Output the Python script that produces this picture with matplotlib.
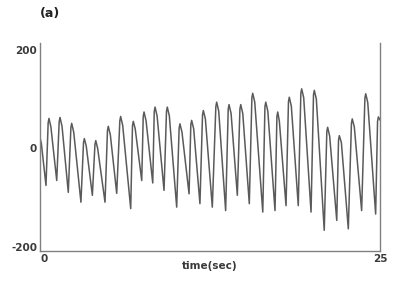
import matplotlib
matplotlib.use("Agg")
import matplotlib.pyplot as plt

# Vertices of the trace (time in sec, amplitude):
# troughs, peaks, and the small shoulders around each peak
time_sec = [0.00, 0.10, 0.44, 0.60, 0.66, 0.80, 1.23, 1.41, 1.47, 1.62,
            2.08, 2.27, 2.33, 2.48, 3.01, 3.20, 3.26, 3.40, 3.85, 4.04,
            4.10, 4.24, 4.78, 4.96, 5.02, 5.17, 5.64, 5.87, 5.93, 6.08,
            6.67, 6.80, 6.86, 7.00, 7.48, 7.59, 7.65, 7.80, 8.29, 8.40,
            8.46, 8.61, 9.12, 9.30, 9.36, 9.51, 10.05, 10.23, 10.29, 10.44,
            10.96, 11.09, 11.15, 11.30, 11.76, 11.95, 12.01, 12.16, 12.67, 12.93,
            12.99, 13.14, 13.65, 13.84, 13.90, 14.05, 14.51, 14.70, 14.76, 14.91,
            15.39, 15.58, 15.64, 15.79, 16.38, 16.54, 16.60, 16.75, 17.28, 17.42,
            17.48, 17.60, 18.09, 18.27, 18.33, 18.48, 18.99, 19.18, 19.24, 19.39,
            19.93, 20.11, 20.17, 20.32, 20.90, 21.09, 21.15, 21.30, 21.82, 21.95,
            22.01, 22.16, 22.67, 22.90, 22.96, 23.11, 23.65, 23.89, 23.95, 24.10,
            24.68, 24.82, 24.88, 25.00]
amplitude = [22, 10, -75, 52, 61, 44, -65, 54, 63, 45,
             -89, 42, 51, 33, -109, 12, 20, 5, -95, 8,
             16, 0, -109, 36, 45, 28, -91, 56, 65, 47,
             -122, 46, 55, 40, -65, 65, 74, 56, -70, 75,
             84, 66, -85, 75, 84, 66, -119, 41, 50, 33,
             -92, 48, 57, 40, -112, 68, 77, 60, -119, 85,
             94, 76, -126, 80, 89, 71, -95, 80, 89, 71,
             -112, 103, 112, 94, -129, 85, 94, 76, -126, 65,
             74, 55, -116, 95, 104, 86, -116, 112, 121, 103,
             -129, 109, 118, 100, -166, 34, 43, 25, -146, 17,
             26, 12, -163, 51, 60, 44, -126, 102, 111, 93,
             -133, 55, 64, 58]

y_ticks = [-200, 0, 200]
y_tick_labels = ["-200", "0", "200"]
x_ticks = [0, 25]
x_tick_labels = ["0", "25"]
x_label = "time(sec)"
panel_label = "(a)"

fig = plt.figure(figsize=(4.11, 2.83), dpi=100)
ax = fig.add_axes([40/411, 1 - 251/283, 340/411, 208/283])

ax.plot(time_sec, amplitude, color="#5a5a5a", lw=1.1, solid_joinstyle="round")

ax.set_xlim(0, 25)
ax.set_ylim(-208, 214)

for s in ["left", "right", "bottom"]:
    ax.spines[s].set_color("#808080")
    ax.spines[s].set_linewidth(1.0)
ax.spines["top"].set_visible(False)

tc = "#3a3a3a"
ax.set_yticks(y_ticks)
ax.set_yticklabels(y_tick_labels, fontsize=7.5, fontweight="bold", color=tc)
ax.set_xticks(x_ticks)
ax.set_xticklabels(x_tick_labels, fontsize=7.5, fontweight="bold", color=tc)
ax.tick_params(axis="both", length=0, pad=2)
ax.get_xticklabels()[0].set_horizontalalignment("left")

ax.set_xlabel(x_label, fontsize=7.5, fontweight="bold", color=tc, labelpad=-2)
fig.text(40/411, 1 - 14/283, panel_label, fontsize=9, fontweight="bold",
         color="#222222", ha="left", va="center")

fig.savefig("out.png", dpi=100)
